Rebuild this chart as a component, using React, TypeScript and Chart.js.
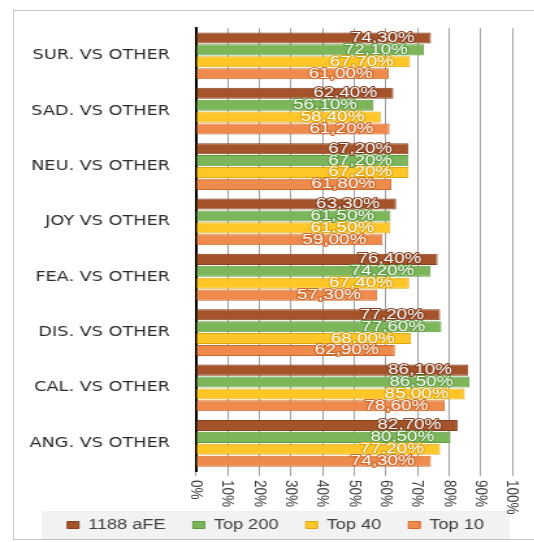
import React, { useEffect, useRef } from 'react';
import { Chart, registerables } from 'chart.js';

Chart.register(...registerables);

const categories = [
  'SUR. VS OTHER',
  'SAD. VS OTHER',
  'NEU. VS OTHER',
  'JOY VS OTHER',
  'FEA. VS OTHER',
  'DIS. VS OTHER',
  'CAL. VS OTHER',
  'ANG. VS OTHER',
];
const seriesNames = ['1188 aFE', 'Top 200', 'Top 40', 'Top 10'];
const afe1188 = [74.3, 62.4, 67.2, 63.3, 76.4, 77.2, 86.1, 82.7];
const top200 = [72.1, 56.1, 67.2, 61.5, 74.2, 77.6, 86.5, 80.5];
const top40 = [67.7, 58.4, 67.2, 61.5, 67.4, 68.0, 85.0, 77.2];
const top10 = [61.0, 61.2, 61.8, 59.0, 57.3, 62.9, 78.6, 74.3];
const xTickValues = [0, 10, 20, 30, 40, 50, 60, 70, 80, 90, 100];
const xTickLabels = ['0%', '10%', '20%', '30%', '40%', '50%', '60%', '70%', '80%', '90%', '100%'];

const fills = ['#A5532B', '#7DB65A', '#FFC628', '#EE8A4B'];
const borders = ['#84401F', '#5E9A3F', '#DDA712', '#CC6A2C'];

const STRETCH = 1.3;
const CW = 401;
const CH = 542;

const legendShift = {
  id: 'legendShift',
  afterLayout(chart: any) {
    if (chart.legend) chart.legend.left = 20;
  },
};

const legendBg = {
  id: 'legendBg',
  beforeDraw(chart: any) {
    const lg = chart.legend;
    if (!lg || !lg.legendHitBoxes || !lg.legendHitBoxes.length) return;
    const hb = lg.legendHitBoxes[0];
    const cy = hb.top + hb.height / 2;
    const ctx = chart.ctx;
    ctx.save();
    ctx.fillStyle = '#f2f2f2';
    ctx.fillRect(22, cy - 14, 360, 28);
    ctx.restore();
  },
};

const xLabels = {
  id: 'xLabels',
  afterDraw(chart: any) {
    const ctx = chart.ctx;
    const sx = chart.scales.x;
    const top = chart.chartArea.bottom + 9;
    ctx.save();
    ctx.fillStyle = '#3a3a3a';
    ctx.font = '13.5px "Liberation Sans", Arial, sans-serif';
    ctx.textAlign = 'left';
    ctx.textBaseline = 'middle';
    xTickValues.forEach((v, i) => {
      const x = sx.getPixelForValue(v);
      ctx.save();
      ctx.translate(x, top);
      ctx.rotate(Math.PI / 2);
      ctx.fillText(xTickLabels[i], 0, 0);
      ctx.restore();
    });
    ctx.restore();
  },
};

const dataLabels = {
  id: 'dataLabels',
  afterDatasetsDraw(chart: any) {
    const ctx = chart.ctx;
    ctx.save();
    ctx.font = '14.5px "Liberation Sans", Arial, sans-serif';
    ctx.textAlign = 'right';
    ctx.textBaseline = 'middle';
    ctx.lineJoin = 'round';
    chart.data.datasets.forEach((ds: any, di: number) => {
      const meta = chart.getDatasetMeta(di);
      meta.data.forEach((bar: any, i: number) => {
        const v = ds.data[i] as number;
        const txt = v.toFixed(2).replace('.', ',') + '%';
        const x = bar.x - 12.5;
        const y = bar.y;
        ctx.lineWidth = 2.2;
        ctx.strokeStyle = borders[di];
        ctx.strokeText(txt, x, y);
        ctx.fillStyle = '#ffffff';
        ctx.fillText(txt, x, y);
      });
    });
    ctx.restore();
  },
};

export default function App() {
  const ref = useRef<HTMLCanvasElement | null>(null);

  useEffect(() => {
    if (!ref.current) return;
    const seriesData = [afe1188, top200, top40, top10];
    const chart = new Chart(ref.current, {
      type: 'bar',
      data: {
        labels: categories,
        datasets: seriesNames.map((name, i) => ({
          label: name,
          data: seriesData[i],
          backgroundColor: fills[i],
          borderColor: borders[i],
          borderWidth: 1,
          barPercentage: 0.93,
          categoryPercentage: 0.86,
        })),
      },
      options: {
        indexAxis: 'y',
        responsive: false,
        animation: false,
        devicePixelRatio: 1,
        events: [],
        layout: { padding: { left: 0, right: 17, top: 28, bottom: 0 } },
        scales: {
          x: {
            type: 'linear',
            min: 0,
            max: 100,
            ticks: { display: false, stepSize: 10 },
            grid: { display: true, color: '#a0a0a0', lineWidth: 1, drawTicks: true, tickLength: 5 },
            border: { display: false },
            afterFit(scale: any) {
              scale.height = 26;
            },
          },
          y: {
            type: 'category',
            grid: { display: false, drawTicks: false },
            border: { display: true, color: '#000000', width: 2 },
            ticks: {
              padding: 20,
              color: '#2a2a2a',
              font: { family: '"DejaVu Sans", sans-serif', size: 13.6 },
            },
            afterFit(scale: any) {
              scale.width = 140.8;
            },
          },
        },
        plugins: {
          tooltip: { enabled: false },
          title: { display: false },
          legend: {
            display: true,
            position: 'bottom',
            labels: {
              boxWidth: 9,
              boxHeight: 7,
              padding: 21,
              color: '#404040',
              font: { family: '"Liberation Sans", Arial, sans-serif', size: 14 },
            },
          },
        },
      },
      plugins: [legendShift, legendBg, xLabels, dataLabels],
    } as any);
    return () => chart.destroy();
  }, []);

  return (
    <div
      style={{
        position: 'fixed',
        left: 0,
        top: 0,
        width: 534,
        height: 542,
        overflow: 'hidden',
        background: '#ffffff',
      }}
    >
      <div
        style={{
          position: 'absolute',
          left: 13,
          top: 10,
          width: 540,
          height: 530,
          border: '1px solid #c4c4c4',
          boxSizing: 'border-box',
        }}
      />
      <div
        style={{
          position: 'absolute',
          left: 13,
          top: 0,
          width: CW,
          height: CH,
          transform: `scaleX(${STRETCH})`,
          transformOrigin: '0 0',
        }}
      >
        <canvas ref={ref} width={CW} height={CH} style={{ display: 'block', width: CW, height: CH }} />
      </div>
    </div>
  );
}
